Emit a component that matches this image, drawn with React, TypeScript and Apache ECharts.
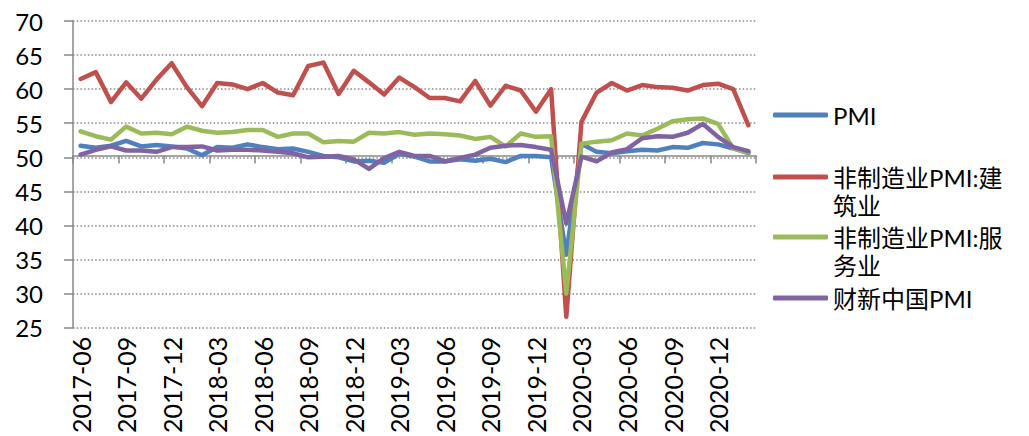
import { useEffect, useRef } from "react";
import * as echarts from "echarts";

// Monthly readings, 2017-06 through 2021-02
const months = [
  "2017-06", "2017-07", "2017-08", "2017-09", "2017-10", "2017-11", "2017-12",
  "2018-01", "2018-02", "2018-03", "2018-04", "2018-05", "2018-06", "2018-07",
  "2018-08", "2018-09", "2018-10", "2018-11", "2018-12",
  "2019-01", "2019-02", "2019-03", "2019-04", "2019-05", "2019-06", "2019-07",
  "2019-08", "2019-09", "2019-10", "2019-11", "2019-12",
  "2020-01", "2020-02", "2020-03", "2020-04", "2020-05", "2020-06", "2020-07",
  "2020-08", "2020-09", "2020-10", "2020-11", "2020-12",
  "2021-01", "2021-02",
];

const pmi = [
  51.7, 51.4, 51.7, 52.4, 51.6, 51.8, 51.6,
  51.3, 50.3, 51.5, 51.4, 51.9, 51.5, 51.2, 51.3, 50.8, 50.2, 50.0, 49.4,
  49.5, 49.2, 50.5, 50.1, 49.4, 49.4, 49.7, 49.5, 49.8, 49.3, 50.2, 50.2,
  50.0, 35.7, 52.0, 50.8, 50.6, 50.9, 51.1, 51.0, 51.5, 51.4, 52.1, 51.9,
  51.3, 50.6,
];

const construction = [
  61.5, 62.5, 58.1, 61.0, 58.6, 61.4, 63.8,
  60.3, 57.5, 60.9, 60.7, 60.0, 60.9, 59.5, 59.1, 63.4, 63.9, 59.3, 62.7,
  61.0, 59.2, 61.7, 60.3, 58.7, 58.7, 58.2, 61.2, 57.6, 60.5, 59.8, 56.7,
  60.0, 26.6, 55.2, 59.5, 60.9, 59.8, 60.6, 60.3, 60.2, 59.8, 60.6, 60.8,
  60.0, 54.7,
];

const services = [
  53.8, 53.1, 52.6, 54.5, 53.5, 53.6, 53.4,
  54.5, 53.9, 53.6, 53.7, 54.0, 54.0, 53.0, 53.5, 53.5, 52.2, 52.4, 52.3,
  53.6, 53.5, 53.7, 53.3, 53.5, 53.4, 53.2, 52.7, 53.0, 51.6, 53.5, 53.0,
  53.1, 30.0, 52.0, 52.3, 52.5, 53.5, 53.2, 54.2, 55.3, 55.6, 55.7, 54.9,
  51.3, 50.7,
];

const caixin = [
  50.4, 51.1, 51.6, 51.0, 51.0, 50.8, 51.5,
  51.5, 51.6, 51.0, 51.1, 51.1, 51.0, 50.8, 50.6, 50.0, 50.1, 50.2, 49.7,
  48.3, 49.9, 50.8, 50.2, 50.2, 49.4, 49.9, 50.4, 51.4, 51.7, 51.8, 51.5,
  51.1, 40.3, 50.1, 49.4, 50.7, 51.2, 52.8, 53.1, 53.0, 53.6, 54.9, 53.0,
  51.5, 50.9,
];

const seriesNames = ["PMI", "非制造业PMI:建筑业", "非制造业PMI:服务业", "财新中国PMI"];
const seriesData = [pmi, construction, services, caixin];
const colors = ["#4F81BD", "#C0504D", "#9BBB59", "#8064A2"];

const Y_MIN = 25;
const Y_MAX = 70;
const Y_STEP = 5;
const AXIS_CROSS = 50;

const FONT = "Lato, 'Noto Sans CJK SC', sans-serif";
const WIDTH = 1029;
const HEIGHT = 436;
const GRID = { left: 73, right: 273, top: 21, bottom: 105 };
// vertical centre of each legend swatch
const LEGEND_CENTERS = [115, 177, 237, 298];
const LEGEND_LINE = 28;
const WRAP_AT = 9;

export default function App() {
  const ref = useRef<HTMLDivElement>(null);

  useEffect(() => {
    if (!ref.current) return;
    const chart = echarts.init(ref.current, undefined, { renderer: "svg" });
    const gridHeight = HEIGHT - GRID.top - GRID.bottom;
    const crossOffset = -((AXIS_CROSS - Y_MIN) / (Y_MAX - Y_MIN)) * gridHeight;
    const axisGray = "#888888";

    chart.setOption({
      animation: false,
      backgroundColor: "#ffffff",
      grid: { ...GRID, containLabel: false },
      xAxis: [
        {
          type: "category",
          data: months,
          boundaryGap: true,
          position: "bottom",
          axisLine: { show: false },
          axisTick: { show: false },
          axisLabel: {
            interval: 2,
            rotate: 90,
            margin: 9,
            fontSize: 25,
            fontFamily: FONT,
            color: "#000",
          },
          splitLine: { show: false },
        },
        {
          // horizontal axis line crossing the value axis at 50
          type: "category",
          data: months,
          boundaryGap: true,
          position: "bottom",
          offset: crossOffset,
          axisLine: { show: true, lineStyle: { color: axisGray, width: 1.5 } },
          axisTick: {
            show: true,
            interval: 2,
            length: 8,
            lineStyle: { color: axisGray, width: 1.5 },
          },
          axisLabel: { show: false },
          splitLine: { show: false },
        },
      ],
      yAxis: {
        type: "value",
        min: Y_MIN,
        max: Y_MAX,
        interval: Y_STEP,
        axisLine: { show: true, lineStyle: { color: axisGray, width: 1.5 } },
        axisTick: { show: true, length: 9, lineStyle: { color: axisGray, width: 1.5 } },
        axisLabel: { margin: 30, fontSize: 24, fontFamily: FONT, color: "#000" },
        splitLine: {
          show: true,
          lineStyle: { color: axisGray, width: 1.5, type: [1.5, 2.2] },
        },
      },
      legend: seriesNames.map((name, i) => {
        const wrapped = name.length > WRAP_AT;
        // wrapped names get an empty first line so the swatch sits beside the first text line
        const blockHeight = wrapped ? LEGEND_LINE * 3 : LEGEND_LINE;
        return {
          data: [name],
          left: 773,
          top: LEGEND_CENTERS[i] - blockHeight / 2,
          padding: 0,
          orient: "vertical",
          icon: "roundRect",
          itemWidth: 55,
          itemHeight: 5,
          selectedMode: false,
          formatter: (n: string) =>
            n.length > WRAP_AT ? "\n" + n.slice(0, WRAP_AT) + "\n" + n.slice(WRAP_AT) : n,
          textStyle: {
            fontSize: 24,
            lineHeight: LEGEND_LINE,
            fontFamily: FONT,
            color: "#000",
          },
        };
      }),
      series: seriesNames.map((name, i) => ({
        name,
        type: "line",
        xAxisIndex: 0,
        data: seriesData[i],
        symbol: "none",
        color: colors[i],
        lineStyle: { width: 4.5, color: colors[i], cap: "round", join: "round" },
        z: 2 + i,
      })),
    });

    return () => chart.dispose();
  }, []);

  return (
    <div
      ref={ref}
      style={{ position: "fixed", left: 0, top: 0, width: WIDTH, height: HEIGHT }}
    />
  );
}
